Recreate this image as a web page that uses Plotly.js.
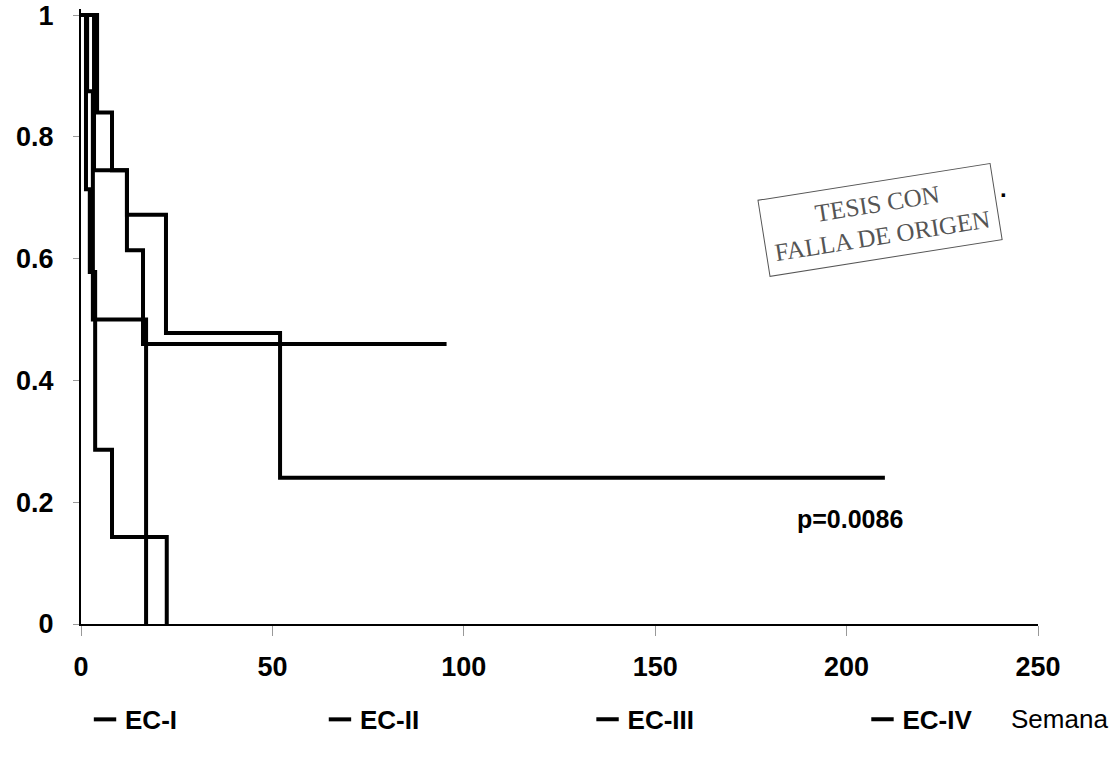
<!DOCTYPE html>
<html>
<head>
<meta charset="utf-8">
<script src="https://cdn.plot.ly/plotly-3.0.1.min.js"></script>
<style>
html,body{margin:0;padding:0;background:#fff;}
#chart{width:1120px;height:767px;}
</style>
</head>
<body>
<div id="chart"></div>
<script>
// Kaplan-Meier step data (weeks, survival)
const seriesNames = ["EC-I", "EC-II", "EC-III", "EC-IV"];
const ecI_weeks  = [0, 3.4, 12, 22.2, 52, 210];
const ecI_surv   = [1, 0.745, 0.672, 0.478, 0.24, 0.24];
const ecII_weeks = [0, 4.2, 8.1, 12, 16.2, 95.5];
const ecII_surv  = [1, 0.84, 0.745, 0.614, 0.46, 0.46];
const ecIII_weeks = [0, 1.6, 3.1, 17];
const ecIII_surv  = [1, 0.875, 0.5, 0];
const ecIV_weeks = [0, 1.3, 2.3, 3.7, 8.1, 22.4];
const ecIV_surv  = [1, 0.714, 0.578, 0.286, 0.143, 0];
const xTicks = [0, 50, 100, 150, 200, 250];
const yTicks = [0, 0.2, 0.4, 0.6, 0.8, 1];
const yTickText = ["0", "0.2", "0.4", "0.6", "0.8", "1"];
const pValueText = "p=0.0086";
const xAxisLabel = "Semana";

const SANS = '"Liberation Sans", Arial, sans-serif';
const allX = [ecI_weeks, ecII_weeks, ecIII_weeks, ecIV_weeks];
const allY = [ecI_surv, ecII_surv, ecIII_surv, ecIV_surv];
const legendIds = ['legend', 'legend2', 'legend3', 'legend4'];
const legendX = [0.0042, 0.2497, 0.5293, 0.8166];

const traces = [];
for (let i = 0; i < 4; i++) {
  traces.push({
    x: allX[i], y: allY[i], type: 'scatter', mode: 'lines',
    line: {shape: 'hv', color: '#000', width: 4},
    showlegend: false, hoverinfo: 'skip'
  });
}
for (let i = 0; i < 4; i++) {
  traces.push({
    x: [null], y: [null], type: 'scatter', mode: 'markers',
    name: seriesNames[i], legend: legendIds[i],
    marker: {symbol: 'line-ew', size: 16, color: '#000', line: {color: '#000', width: 4}},
    showlegend: true
  });
}

const layout = {
  width: 1120, height: 767,
  margin: {l: 81, r: 82, t: 9, b: 143, autoexpand: false},
  paper_bgcolor: '#fff', plot_bgcolor: '#fff',
  showlegend: true,
  xaxis: {
    range: [0, 250], tickvals: xTicks, ticktext: xTicks.map(String),
    showgrid: false, zeroline: false,
    showline: true, linecolor: '#000', linewidth: 2,
    ticks: 'outside', ticklen: 10, tickcolor: '#999', tickwidth: 1,
    ticklabelstandoff: 8, ticklabeloverflow: 'allow',
    tickfont: {family: SANS, size: 27, color: '#000', weight: 'bold'}
  },
  yaxis: {
    range: [0, 1.01], tickvals: yTicks, ticktext: yTickText,
    showgrid: false, zeroline: false,
    showline: true, linecolor: '#000', linewidth: 2,
    ticks: 'outside', ticklen: 6, tickcolor: '#999', tickwidth: 1,
    ticklabelstandoff: 14, ticklabeloverflow: 'allow',
    tickfont: {family: SANS, size: 27, color: '#000', weight: 'bold'}
  },
  annotations: [
    {x: 200.8, y: 0.172, xref: 'x', yref: 'y', text: pValueText, showarrow: false,
     font: {family: SANS, size: 25, color: '#000', weight: 'bold'}},
    {x: 1.0752, y: -0.1545, xref: 'paper', yref: 'paper', xanchor: 'right', yanchor: 'middle',
     text: xAxisLabel, showarrow: false,
     font: {family: SANS, size: 26, color: '#000'}},
    {x: 208.6, y: 0.664, xref: 'x', yref: 'y', text: 'TESIS CON<br>FALLA DE ORIGEN',
     showarrow: false, textangle: -9, bordercolor: '#555', borderwidth: 1, borderpad: 8,
     bgcolor: '#fff',
     font: {family: '"Liberation Serif", serif', size: 25, color: '#555'}},
    {x: 241, y: 0.715, xref: 'x', yref: 'y', text: '.', showarrow: false,
     font: {family: SANS, size: 24, color: '#000', weight: 'bold'}}
  ]
};
for (let i = 0; i < 4; i++) {
  layout[legendIds[i]] = {
    orientation: 'h', x: legendX[i], xanchor: 'left', y: -0.117, yanchor: 'top',
    itemwidth: 30,
    font: {family: SANS, size: 26, color: '#000', weight: 'bold'},
    bgcolor: 'rgba(0,0,0,0)'
  };
}

Plotly.newPlot('chart', traces, layout, {displayModeBar: false, staticPlot: true});
</script>
</body>
</html>
